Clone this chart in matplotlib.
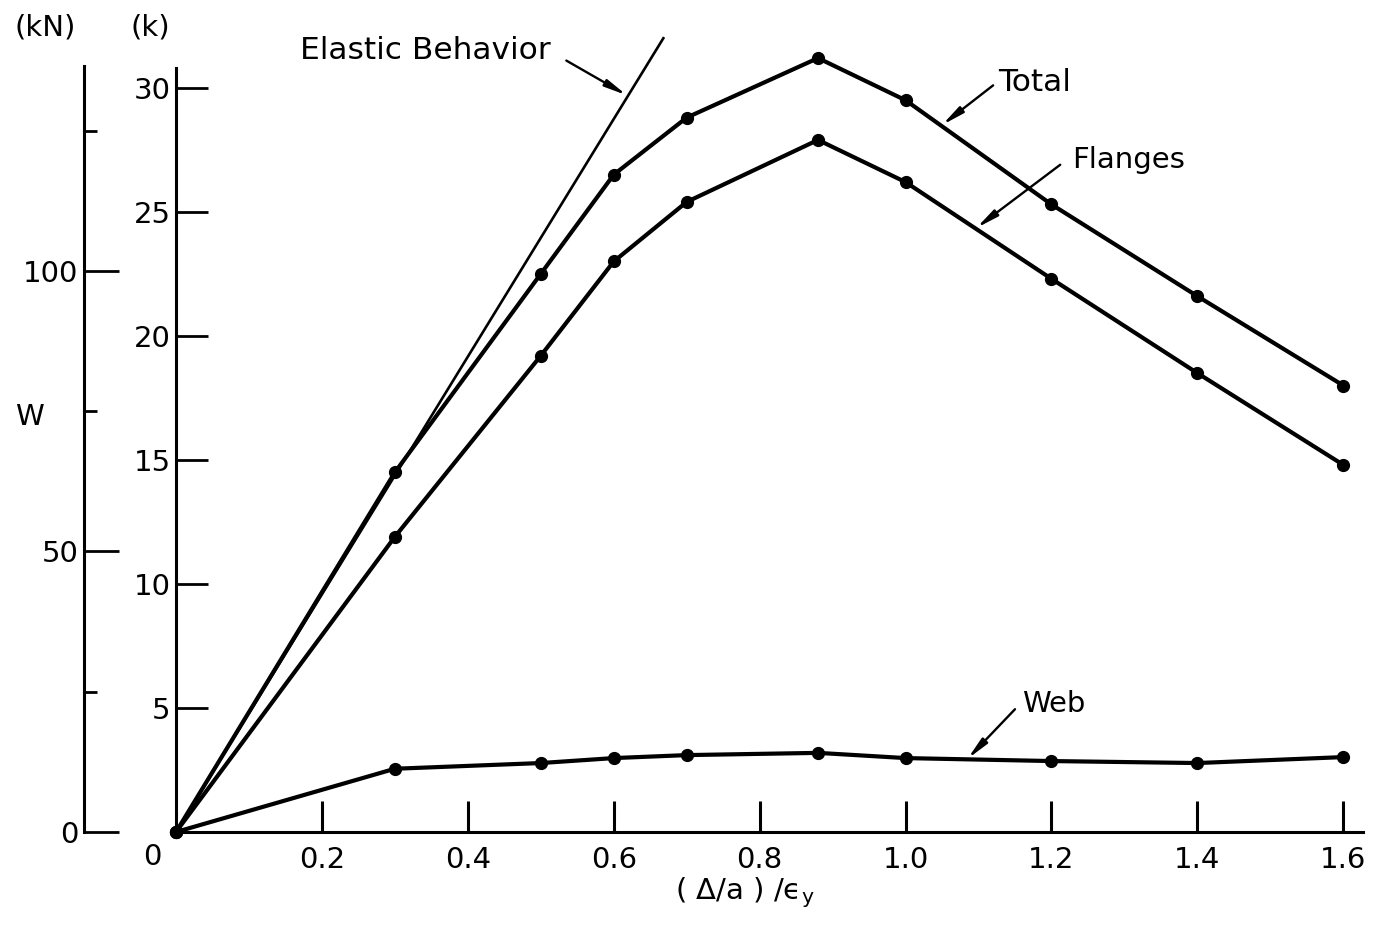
import matplotlib
matplotlib.use("Agg")
import matplotlib.pyplot as plt
import numpy as np

# ── Data ─────────────────────────────────────────────────────
x_pts   = [0.0, 0.30, 0.50, 0.60, 0.70, 0.88, 1.00, 1.20, 1.40, 1.60]
total   = [0.0, 14.5, 22.5, 26.5, 28.8, 31.2, 29.5, 25.3, 21.6, 18.0]
flanges = [0.0, 11.9, 19.2, 23.0, 25.4, 27.9, 26.2, 22.3, 18.5, 14.8]
web     = [0.0, 2.55, 2.78, 2.98, 3.10, 3.19, 2.98, 2.86, 2.78, 3.02]

elastic_x = [0.0, 0.668]
elastic_y = [0.0, 32.0]

x_ticks  = [0.2, 0.4, 0.6, 0.8, 1.0, 1.2, 1.4, 1.6]
x_labels = ["0.2", "0.4", "0.6", "0.8", "1.0", "1.2", "1.4", "1.6"]
k_ticks  = [5, 10, 15, 20, 25, 30]
kn_major = [0, 50, 100]
kn_minor = [25, 75, 125]

W, H = 1374, 934
FS = 21
plt.rcParams["font.family"] = ["DejaVu Sans"]

fig = plt.figure(figsize=(W / 100, H / 100), dpi=100)

# ── Main axes (k) ────────────────────────────────────────────
ax = fig.add_axes([176 / W, 1 - 832 / H, (1363 - 176) / W, (832 - 68) / H])
ax.set_xlim(0, 1.627)
ax.set_ylim(0, 30.8)
for s in ["top", "right"]:
    ax.spines[s].set_visible(False)
for s in ["left", "bottom"]:
    ax.spines[s].set_linewidth(2.2)

ax.set_xticks(x_ticks)
ax.set_xticklabels(x_labels, fontsize=FS)
ax.set_yticks(k_ticks)
ax.set_yticklabels([str(t) for t in k_ticks], fontsize=FS)
ax.tick_params(axis="x", direction="in", length=22, width=2.2, pad=10)
ax.tick_params(axis="y", direction="in", length=23, width=2.0, pad=4)
ax.text(-0.032, -0.45, "0", fontsize=FS, ha="center", va="top")

line_kw = dict(color="black", lw=3.0, marker="o", ms=8.5, clip_on=False)
ax.plot(x_pts, total, **line_kw)
ax.plot(x_pts, flanges, **line_kw)
ax.plot(x_pts, web, **line_kw)
ax.plot(elastic_x, elastic_y, color="black", lw=1.9, clip_on=False)

# ── Labels with arrows ───────────────────────────────────────
arrow = dict(arrowstyle="-|>,head_length=1.3,head_width=0.22",
             color="black", lw=1.7, shrinkA=0, shrinkB=0)

def label(txt, tx, ty, start, end, fs=FS):
    ax.text(tx, ty, txt, fontsize=fs, ha="left", va="center")
    ax.annotate("", xy=end, xytext=start, arrowprops=arrow,
                annotation_clip=False)

label("Elastic Behavior", 0.170, 31.5, (0.535, 31.1), (0.618, 29.7), fs=22.5)
label("Total", 1.127, 30.2, (1.120, 30.1), (1.050, 28.5), fs=22.5)
label("Flanges", 1.228, 27.1, (1.212, 26.9), (1.097, 24.35))
label("Web", 1.160, 5.15, (1.150, 4.95), (1.085, 2.95))

ax.text(-0.035, 32.45, "(k)", fontsize=FS, ha="center", va="center",
        clip_on=False)
ax.text(0.780, -2.45, "( \u0394/a ) /\u03f5$_\\mathrm{y}$", fontsize=FS,
        ha="center", va="center")

# ── Secondary kN scale ───────────────────────────────────────
ax2 = fig.add_axes([84 / W, 1 - 832 / H, 0.02, (832 - 66) / H])
ax2.set_ylim(0, 136.5)
ax2.patch.set_visible(False)
for s in ["top", "right", "bottom"]:
    ax2.spines[s].set_visible(False)
ax2.spines["left"].set_linewidth(2.2)
ax2.set_xticks([])
ax2.set_yticks(kn_major)
ax2.set_yticklabels([str(t) for t in kn_major], fontsize=FS)
ax2.set_yticks(kn_minor, minor=True)
ax2.tick_params(axis="y", which="major", direction="in", length=25,
                width=2.0, pad=4)
ax2.tick_params(axis="y", which="minor", direction="in", length=9,
                width=2.0)
ax2.text(-1.42, 143.3, "(kN)", fontsize=FS, ha="center", va="center",
         transform=ax2.get_yaxis_transform(), clip_on=False)
ax2.text(-2.0, 74, "W", fontsize=FS, ha="center", va="center",
         transform=ax2.get_yaxis_transform(), clip_on=False)

fig.savefig("out.png", dpi=100)
